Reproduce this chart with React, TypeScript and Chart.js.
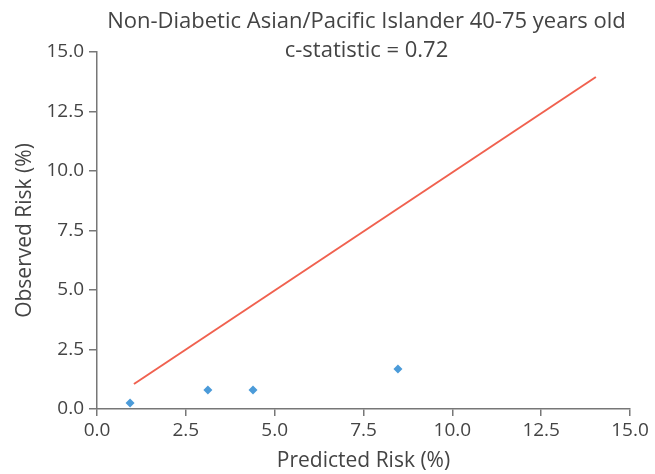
import React, { useEffect, useRef } from "react";
import { Chart, registerables } from "chart.js";

Chart.register(...registerables);

// Calibration points: predicted vs observed risk (%)
const predictedRisk = [0.93, 3.12, 4.39, 8.47];
const observedRisk = [0.25, 0.8, 0.8, 1.68];

// Fitted calibration line end points
const lineX = [1.04, 14.04];
const lineY = [1.05, 13.95];

const titleLines = ["Non-Diabetic Asian/Pacific Islander 40-75 years old", "c-statistic = 0.72"];
const xTitle = "Predicted Risk (%)";
const yTitle = "Observed Risk (%)";

const FONT = "'Open Sans', Lato, sans-serif";
const TEXT = "#444444";
const AXIS = "#777777";

const titlePlugin = {
  id: "twoLineTitle",
  afterDraw(chart: any) {
    const { ctx, chartArea } = chart;
    const cx = (chartArea.left + chartArea.right) / 2 + 3;
    ctx.save();
    ctx.fillStyle = TEXT;
    ctx.font = `500 22px ${FONT}`;
    ctx.textAlign = "center";
    ctx.textBaseline = "alphabetic";
    ctx.fillText(titleLines[0], cx, 27.5);
    ctx.fillText(titleLines[1], cx, 56.5);
    ctx.restore();
  },
};

export default function App() {
  const ref = useRef<HTMLCanvasElement>(null);

  useEffect(() => {
    document.body.style.margin = "0";
    const canvas = ref.current;
    if (!canvas) return;
    const fmt = (v: any) => Number(v).toFixed(1);
    const chart = new Chart(canvas, {
      type: "scatter",
      data: {
        datasets: [
          {
            type: "line",
            data: lineX.map((x, i) => ({ x, y: lineY[i] })),
            borderColor: "#f0614f",
            borderWidth: 2,
            pointRadius: 0,
            fill: false,
          },
          {
            data: predictedRisk.map((x, i) => ({ x, y: observedRisk[i] })),
            pointStyle: "rectRot",
            pointRadius: 4.5,
            backgroundColor: "#4b9bd9",
            borderColor: "#4b9bd9",
            borderWidth: 0,
          },
        ],
      },
      options: {
        animation: false,
        responsive: false,
        layout: { padding: { top: 52, right: 25, left: 0, bottom: 0 } },
        plugins: { legend: { display: false }, tooltip: { enabled: false }, title: { display: false } },
        scales: {
          x: {
            type: "linear",
            min: 0,
            max: 15,
            ticks: { stepSize: 2.5, callback: fmt, color: TEXT, font: { family: FONT, size: 19, weight: "500" }, padding: 3, maxRotation: 0 },
            grid: { display: true, drawOnChartArea: false, drawTicks: true, tickLength: 7, color: AXIS, lineWidth: 1.5 },
            border: { display: true, color: AXIS, width: 1.5 },
            title: { display: true, text: xTitle, color: TEXT, font: { family: FONT, size: 21, weight: "500" }, padding: { top: 2, bottom: 0 } },
            afterFit(scale: any) {
              scale.height = 65;
            },
          },
          y: {
            type: "linear",
            min: 0,
            max: 15,
            ticks: { stepSize: 2.5, callback: fmt, color: TEXT, font: { family: FONT, size: 19, weight: "500" }, padding: 5 },
            grid: { display: true, drawOnChartArea: false, drawTicks: true, tickLength: 8, color: AXIS, lineWidth: 1.5 },
            border: { display: true, color: AXIS, width: 1.5 },
            title: { display: true, text: yTitle, color: TEXT, font: { family: FONT, size: 21, weight: "500" }, padding: { top: 12, bottom: 0 } },
            afterFit(scale: any) {
              scale.width = 97;
            },
          },
        },
      },
      plugins: [titlePlugin],
    });
    return () => chart.destroy();
  }, []);

  return (
    <div style={{ width: 655, height: 474 }}>
      <canvas ref={ref} width={655} height={474} style={{ display: "block" }} />
    </div>
  );
}
